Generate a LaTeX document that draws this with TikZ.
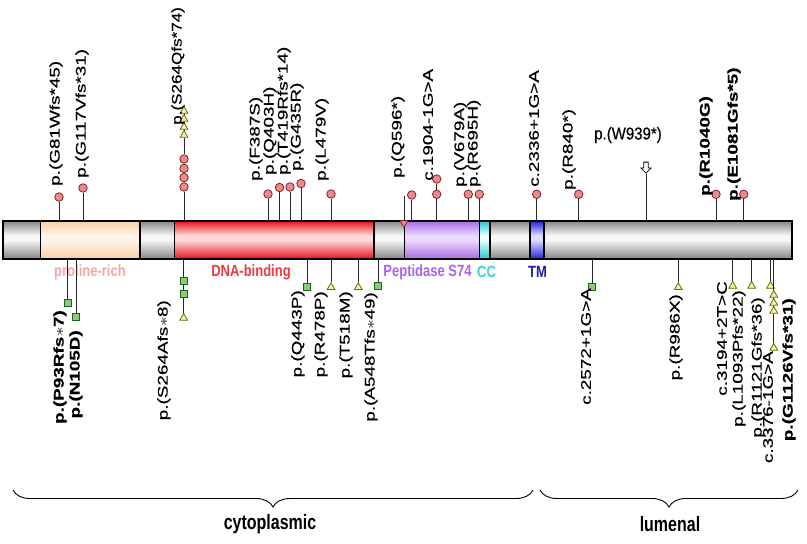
\documentclass[tikz,border=0pt]{standalone}
\usepackage{graphicx}
\usepackage{fontspec}
\setmainfont{Liberation Sans}
\newfontfamily\labf[FakeBold=0.35]{Liberation Sans}
\usetikzlibrary{shapes.geometric,shapes.arrows,decorations.pathreplacing}

\definecolor{gD}{HTML}{858585}\definecolor{gL}{HTML}{F7F7F7}
\definecolor{pD}{HTML}{F8D0A4}\definecolor{pL}{HTML}{FFF4E8}
\definecolor{rD}{HTML}{E8101C}\definecolor{rL}{HTML}{FFDADA}
\definecolor{vD}{HTML}{A86BE6}\definecolor{vL}{HTML}{EBD9FB}
\definecolor{cD}{HTML}{22C8C8}\definecolor{cL}{HTML}{E6FFFF}
\definecolor{bD}{HTML}{2222DD}\definecolor{bL}{HTML}{DCDCFF}
\definecolor{dotfill}{HTML}{E98A8F}\definecolor{dotdraw}{HTML}{8B2020}
\definecolor{sqfill}{HTML}{8CCB7A}\definecolor{sqdraw}{HTML}{1F5F1F}
\definecolor{trifill}{HTML}{F2F2A0}\definecolor{tridraw}{HTML}{6B6B10}
\definecolor{prolab}{HTML}{F4A7A9}\definecolor{dnalab}{HTML}{EE3B46}
\definecolor{peplab}{HTML}{A864EE}\definecolor{cclab}{HTML}{33D6D6}
\definecolor{tmlab}{HTML}{1C1CB4}

\newcommand\mkshade[3]{\pgfdeclareverticalshading{#1}{100bp}{color(0bp)=(#2); color(25bp)=(#2); color(50bp)=(#3); color(56bp)=(#3); color(75bp)=(#2); color(100bp)=(#2)}}
\mkshade{gbar}{gD}{gL}
\mkshade{pbar}{pD}{pL}
\mkshade{rbar}{rD}{rL}
\mkshade{vbar}{vD}{vL}
\mkshade{cbar}{cD}{cL}
\mkshade{bbar}{bD}{bL}

\newcommand\lfont{\labf\fontsize{14}{16}\selectfont}
\newcommand\lbx[1]{\scalebox{1.35}[1]{#1}}

\tikzset{
  outl/.style={draw=black, line width=1.2pt},
  stem/.style={draw=black!85, line width=0.9pt},
  dot/.style={circle, draw=dotdraw, fill=dotfill, line width=0.8pt, minimum size=8.5pt, inner sep=0pt},
  sq/.style={rectangle, draw=sqdraw, fill=sqfill, line width=0.8pt, minimum size=7pt, inner sep=0pt},
  tri/.style={regular polygon, regular polygon sides=3, draw=tridraw, fill=trifill, line width=0.8pt, minimum size=9pt, inner sep=0pt},
  toplab/.style={rotate=90, anchor=west, inner sep=0pt, font=\lfont},
  botlab/.style={rotate=90, anchor=east, inner sep=0pt, font=\lfont},
  dlab/.style={inner sep=0pt, font=\fontsize{13}{15}\selectfont\bfseries},
  reglab/.style={inner sep=0pt, font=\fontsize{16}{18}\selectfont\bfseries},
  brc/.style={decorate, decoration={brace, mirror, amplitude=17pt}, line width=0.9pt}
}

\begin{document}
\begin{tikzpicture}[x=1pt,y=-1pt]
\useasboundingbox[fill=white] (0,0) rectangle (807,544);

% ---- protein bar ----
\path[shading=gbar] (3,221) rectangle (792,259);
\path[shading=pbar] (40.7,221) rectangle (140,259);
\path[shading=rbar] (174.3,221) rectangle (374,259);
\path[shading=vbar] (404.3,221) rectangle (479.3,259);
\path[shading=cbar] (479.3,221) rectangle (490,259);
\path[shading=bbar] (530,221) rectangle (544,259);
\draw[outl] (3,221) rectangle (792,259);
\draw[outl] (40.7,221) rectangle (140,259);
\draw[outl] (174.3,221) rectangle (374,259);
\draw[outl] (404.3,221) rectangle (479.3,259);
\draw[outl] (479.3,221) rectangle (490,259);
\draw[outl] (530,221) rectangle (544,259);

% ---- domain labels ----
\node[dlab, text=prolab] (lpro) at (90,272) {\scalebox{1}[1.25]{proline-rich}};
\node[dlab, text=dnalab] (ldna) at (251,272) {\scalebox{1}[1.25]{DNA-binding}};
\node[dlab, text=peplab] (lpep) at (427.5,272) {\scalebox{1}[1.25]{Peptidase S74}};
\node[dlab, text=cclab] (lcc) at (486.5,272) {\scalebox{1}[1.25]{CC}};
\node[dlab, text=tmlab] (ltm) at (537.5,272) {\scalebox{1}[1.25]{TM}};

% ---- top mutations ----
\coordinate (b1) at (59,221); \node[dot] (c1) at (59,197) {}; \draw[stem] (b1) -- (c1);
\node[toplab] (l1) at (56,186) {\lbx{p.(G81Wfs*45)}};

\coordinate (b2) at (83,221); \node[dot] (c2) at (83,188) {}; \draw[stem] (b2) -- (c2);
\node[toplab] (l2) at (82,178) {\lbx{p.(G117Vfs*31)}};

\coordinate (b3) at (184,221);
\node[dot] (c3a) at (184,187) {};
\node[dot] (c3b) at (184,177.7) {};
\node[dot] (c3c) at (184,168.4) {};
\node[dot] (c3d) at (184,159) {};
\node[tri] (t3a) at (184,135) {};
\node[tri] (t3b) at (184,127) {};
\node[tri] (t3c) at (184,119) {};
\node[tri] (t3d) at (184,111) {};
\draw[stem] (b3) -- (c3a) (c3a) -- (c3b) (c3b) -- (c3c) (c3c) -- (c3d) (c3d) -- (t3a) (t3a) -- (t3b) (t3b) -- (t3c) (t3c) -- (t3d);
\node[toplab] (l3) at (178,125) {\scalebox{1.22}[1]{p.(S264Qfs*74)}};

\coordinate (b4) at (268,221); \node[dot] (c4) at (268,194) {}; \draw[stem] (b4) -- (c4);
\node[toplab] (l4) at (256,181) {\lbx{p.(F387S)}};

\coordinate (b5) at (279.5,221); \node[dot] (c5) at (279.5,187.5) {}; \draw[stem] (b5) -- (c5);
\node[toplab] (l5) at (270,175) {\lbx{p.(Q403H)}};

\coordinate (b6) at (290,221); \node[dot] (c6) at (290,187) {}; \draw[stem] (b6) -- (c6);
\node[toplab] (l6) at (284,175) {\lbx{p.(T419Rfs*14)}};

\coordinate (b7) at (301,221); \node[dot] (c7) at (301,183.5) {}; \draw[stem] (b7) -- (c7);
\node[toplab] (l7) at (297,171) {\lbx{p.(G435R)}};

\coordinate (b8) at (331,221); \node[dot] (c8) at (331,194) {}; \draw[stem] (b8) -- (c8);
\node[toplab] (l8) at (322,181) {\lbx{p.(L479V)}};

\coordinate (a9) at (404,196);
\node[regular polygon, regular polygon sides=3, shape border rotate=180, draw=dotdraw, fill=dotfill, line width=0.8pt, minimum size=9pt, inner sep=0pt] (q9) at (404,223) {};
\draw[stem] (a9) -- (q9);
\coordinate (b9) at (411.7,221); \node[dot] (c9) at (411.7,195) {}; \draw[stem] (b9) -- (c9);
\node[toplab] (l9) at (398,178) {\lbx{p.(Q596*)}};

\coordinate (b10) at (436.7,221);
\node[dot] (c10a) at (436.7,194.3) {}; \node[dot] (c10b) at (436.7,179) {};
\draw[stem] (b10) -- (c10a) (c10a) -- (c10b);
\node[toplab] (l10) at (428,181) {\lbx{c.1904-1G>A}};

\coordinate (b11) at (468.3,221); \node[dot] (c11) at (468.3,194.3) {}; \draw[stem] (b11) -- (c11);
\node[toplab] (l11) at (460.5,187) {\lbx{p.(V679A)}};

\coordinate (b12) at (479.3,221); \node[dot] (c12) at (479.3,194.3) {}; \draw[stem] (b12) -- (c12);
\node[toplab] (l12) at (474,187) {\lbx{p.(R695H)}};

\coordinate (b13) at (536.7,221); \node[dot] (c13) at (536.7,194.3) {}; \draw[stem] (b13) -- (c13);
\node[toplab] (l13) at (534,187) {\lbx{c.2336+1G>A}};

\coordinate (b14) at (578.7,221); \node[dot] (c14) at (578.7,194.3) {}; \draw[stem] (b14) -- (c14);
\node[toplab] (l14) at (569,190) {\lbx{p.(R840*)}};

\coordinate (b15) at (646,221);
\node[single arrow, draw=black, fill=white, line width=0.8pt, shape border rotate=270, minimum height=11pt, minimum width=10pt, inner sep=1.8pt, single arrow head extend=3pt, single arrow head indent=0pt] (w15) at (646,166.5) {};
\draw[stem] (b15) -- (w15.tip);
\node[inner sep=0pt, font=\labf\fontsize{15}{17}\selectfont] (l15) at (628,135) {\scalebox{1}[1.15]{p.(W939*)}};

\coordinate (b16) at (716,221); \node[dot] (c16) at (716,194.3) {}; \draw[stem] (b16) -- (c16);
\node[toplab] (l16) at (706,196) {\lbx{\bfseries p.(R1040G)}};

\coordinate (b17) at (743.7,221); \node[dot] (c17) at (743.7,194.3) {}; \draw[stem] (b17) -- (c17);
\node[toplab] (l17) at (734,201) {\lbx{\bfseries p.(E1081Gfs*5)}};

% ---- bottom mutations ----
\coordinate (d18) at (67.7,259); \node[sq] (s18) at (67.7,303.3) {}; \draw[stem] (d18) -- (s18);
\node[botlab] (l18) at (60,310) {\lbx{\bfseries p.(P93Rfs$\ast$7)}};

\coordinate (d19) at (76.3,259); \node[sq] (s19) at (76.3,317) {}; \draw[stem] (d19) -- (s19);
\node[botlab] (l19) at (76,330) {\lbx{\bfseries p.(N105D)}};

\coordinate (d20) at (183.7,259);
\node[sq] (s20a) at (183.7,281) {}; \node[sq] (s20b) at (183.7,294.3) {}; \node[tri] (s20c) at (183.7,318) {};
\draw[stem] (d20) -- (s20a) (s20a) -- (s20b) (s20b) -- (s20c);
\node[botlab] (l20) at (164,300) {\lbx{p.(S264Afs$\ast$8)}};

\coordinate (d21) at (307,259); \node[sq] (s21) at (307,287) {}; \draw[stem] (d21) -- (s21);
\node[botlab] (l21) at (298,290) {\lbx{p.(Q443P)}};

\coordinate (d22) at (331,259); \node[tri] (s22) at (331,287.3) {}; \draw[stem] (d22) -- (s22);
\node[botlab] (l22) at (321,291) {\lbx{p.(R478P)}};

\coordinate (d23) at (358.3,259); \node[tri] (s23) at (358.3,287.3) {}; \draw[stem] (d23) -- (s23);
\node[botlab] (l23) at (346,291) {\lbx{p.(T518M)}};

\coordinate (d24) at (378.3,259); \node[sq] (s24) at (378.3,286) {}; \draw[stem] (d24) -- (s24);
\node[botlab] (l24) at (371,292) {\lbx{p.(A548Tfs$\ast$49)}};

\coordinate (d25) at (592.3,259); \node[sq] (s25) at (592.3,286.7) {}; \draw[stem] (d25) -- (s25);
\node[botlab] (l25) at (586,288) {\lbx{c.2572+1G>A}};

\coordinate (d26) at (678.3,259); \node[tri] (s26) at (678.3,287.3) {}; \draw[stem] (d26) -- (s26);
\node[botlab] (l26) at (676,294) {\lbx{p.(R986X)}};

\coordinate (d27) at (732.7,259); \node[tri] (s27) at (732.7,286) {}; \draw[stem] (d27) -- (s27);
\node[botlab] (l27) at (722,281) {\lbx{c.3194+2T>C}};

\coordinate (d28) at (751.7,259); \node[tri] (s28) at (751.7,286) {}; \draw[stem] (d28) -- (s28);
\node[botlab] (l28) at (739,290) {\lbx{p.(L1093Pfs*22)}};

\coordinate (d29) at (770.5,259); \node[tri] (s29) at (770.5,286) {}; \draw[stem] (d29) -- (s29);
\node[botlab] (l29) at (758,297) {\lbx{p.(R1121Gfs*36)}};

\coordinate (d30) at (773.8,259);
\node[tri] (s30a) at (773.8,295) {}; \node[tri] (s30b) at (773.8,303) {}; \node[tri] (s30c) at (773.8,311) {};
\node[tri] (s30d) at (773.8,348) {};
\draw[stem] (d30) -- (s30a) (s30a) -- (s30b) (s30b) -- (s30c) (s30c) -- (s30d);
\node[botlab] (l30a) at (768,351) {\lbx{c.3376-1G>A}};
\node[botlab] (l30b) at (789,298) {\lbx{\bfseries p.(G1126Vfs*31)}};

% ---- regions ----
\coordinate (cytL) at (13,490); \coordinate (cytR) at (533,490);
\draw[brc] (cytL) -- (cytR);
\node[reglab] (cyt) at (270,524) {\scalebox{1}[1.3]{cytoplasmic}};
\coordinate (lumL) at (540,490); \coordinate (lumR) at (798,490);
\draw[brc] (lumL) -- (lumR);
\node[reglab] (lum) at (670,524) {\scalebox{1}[1.3]{lumenal}};
\end{tikzpicture}
\end{document}
